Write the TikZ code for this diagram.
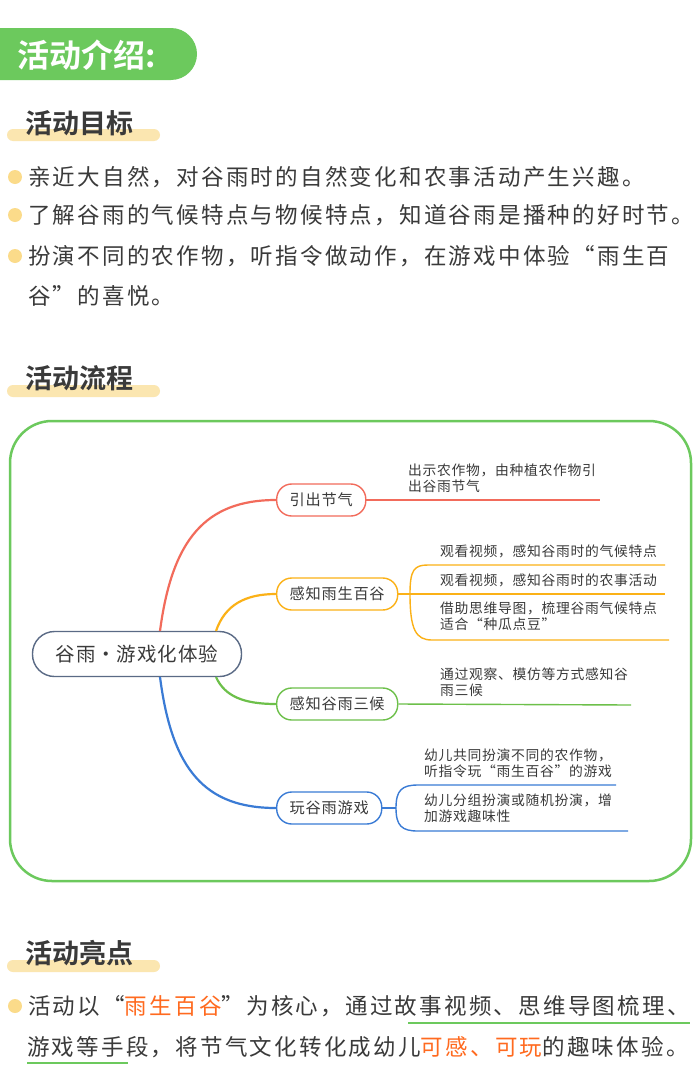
\documentclass[tikz,border=0pt]{standalone}
\usepackage{fontspec}
\setmainfont{Noto Sans CJK SC}
\newfontfamily\bodyf[LetterSpace=10]{Noto Sans CJK SC}
\newfontfamily\mapf[LetterSpace=5]{Noto Sans CJK SC}
\newfontfamily\headf{Noto Sans CJK SC Bold}
\definecolor{hg}{HTML}{6CC95D}
\definecolor{hy}{HTML}{FBE6B0}
\definecolor{bdot}{HTML}{FBDB8A}
\definecolor{tx}{HTML}{3A3A3A}
\definecolor{cr}{HTML}{F26B5B}
\definecolor{co}{HTML}{FBB117}
\definecolor{cg}{HTML}{6DC04A}
\definecolor{cb}{HTML}{3A7BD5}
\definecolor{cc}{HTML}{5A6A85}
\definecolor{hl}{HTML}{FF6A1F}
\begin{document}
\begin{tikzpicture}[x=1pt,y=-1pt,
  body/.style={anchor=west,inner sep=0,text=tx,font=\bodyf\fontsize{22.5}{26}\selectfont},
  head/.style={anchor=west,inner sep=0,text=tx,font=\headf\fontsize{27}{30}\selectfont},
  bdotst/.style={fill=bdot,draw=none},
  br/.style={draw=#1,line width=1.4pt,rounded corners=15pt,minimum height=32pt,inner xsep=13pt,font=\mapf\fontsize{15.2}{17}\selectfont,text=tx},
  leaf/.style={anchor=west,inner sep=0,align=left,text=tx,font=\mapf\fontsize{13.8}{16.5}\selectfont},
  cn/.style={line width=2.2pt,#1},
  ln/.style={line width=1.4pt,#1}]
\useasboundingbox (0,0) rectangle (700,1092);
\fill[white] (0,0) rectangle (700,1092);
% header
\fill[hg,rounded corners=26pt] (-40,28) rectangle (197,80);
\node[anchor=west,inner sep=0,text=white,font=\headf\fontsize{32}{34}\selectfont] (h0) at (17,55) {活动介绍:};
% section 1
\fill[hy,rounded corners=6pt] (7,129) rectangle (160,141);
\node[head] (h1) at (25,123) {活动目标};
\foreach \y in {177,215,256}{\fill[bdotst] (15,\y) circle (7pt);}
\node[body] (b1) at (28,177) {亲近大自然，对谷雨时的自然变化和农事活动产生兴趣。};
\node[body] (b2) at (28,215) {了解谷雨的气候特点与物候特点，知道谷雨是播种的好时节。};
\node[body] (b3) at (28,256) {扮演不同的农作物，听指令做动作，在游戏中体验“雨生百};
\node[body] (b4) at (28,296) {谷”的喜悦。};
% section 2
\fill[hy,rounded corners=6pt] (7,385) rectangle (160,397);
\node[head] (h2) at (25,378) {活动流程};
\draw[hg,line width=2.5pt,rounded corners=42pt] (10,421) rectangle (691,881);
% mind map
\node[draw=cc,line width=1.4pt,rounded corners=22pt,minimum width=209pt,minimum height=45pt,text=tx,font=\mapf\fontsize{19.5}{22}\selectfont] (c) at (137,654) {谷雨・游戏化体验};
\node[br=cr,anchor=west] (n1) at (276,500) {引出节气};
\node[br=co,anchor=west] (n2) at (276,594) {感知雨生百谷};
\node[br=cg,anchor=west] (n3) at (276,704) {感知谷雨三候};
\node[br=cb,anchor=west] (n4) at (276,808) {玩谷雨游戏};
\draw[cn=cr] (160,631) .. controls (172,540) and (205,500) .. (n1.west);
\draw[cn=co] (216,631) .. controls (225,605) and (245,594) .. (n2.west);
\draw[cn=cg] (216,677) .. controls (225,697) and (245,704) .. (n3.west);
\draw[cn=cb] (160,677) .. controls (172,770) and (205,808) .. (n4.west);
% leaves
\coordinate (e1) at (600,500);
\draw[ln=cr] (n1.east) -- (e1);
\node[leaf] (l1) at (408,478) {出示农作物，由种植农作物引\\出谷雨节气};
\coordinate (a1) at (428,565); \coordinate (f1) at (665,565);
\coordinate (a2) at (410,594); \coordinate (f2) at (665,594);
\coordinate (a3) at (432,640); \coordinate (f3) at (669,640);
\draw[ln=co] (n2.east) -- (410,594) -- (f2);
\draw[ln=co] (410,594) .. controls (410,570) and (414,565) .. (a1) -- (f1);
\draw[ln=co] (410,594) .. controls (410,630) and (416,640) .. (a3) -- (f3);
\node[leaf] (l2) at (440,551) {观看视频，感知谷雨时的气候特点};
\node[leaf] (l3) at (440,580) {观看视频，感知谷雨时的农事活动};
\node[leaf] (l4) at (440,616) {借助思维导图，梳理谷雨气候特点\\适合“种瓜点豆”};
\coordinate (e3) at (631,705);
\draw[ln=cg] (n3.east) -- (e3);
\node[leaf] (l5) at (440,682) {通过观察、模仿等方式感知谷\\雨三候};
\coordinate (g1) at (418,785); \coordinate (k1) at (616,785);
\coordinate (g2) at (418,831); \coordinate (k2) at (628,831);
\draw[ln=cb] (n4.east) -- (396,808);
\draw[ln=cb] (396,808) .. controls (396,790) and (402,785) .. (g1) -- (k1);
\draw[ln=cb] (396,808) .. controls (396,826) and (402,831) .. (g2) -- (k2);
\node[leaf] (l6) at (424,763) {幼儿共同扮演不同的农作物，\\听指令玩“雨生百谷”的游戏};
\node[leaf] (l7) at (424,808) {幼儿分组扮演或随机扮演，增\\加游戏趣味性};
% section 3
\fill[hy,rounded corners=6pt] (7,960) rectangle (160,972);
\node[head] (h3) at (25,953) {活动亮点};
\fill[bdotst] (15,1006) circle (7pt);
\node[body] (b5) at (28,1006) {活动以“\textcolor{hl}{雨生百谷}”为核心，通过故事视频、思维导图梳理、};
\node[body] (b6) at (27,1047) {游戏等手段，将节气文化转化成幼儿\textcolor{hl}{可感、可玩}的趣味体验。};
\draw[hg,line width=2pt] (408,1023) -- (690,1023);
\draw[hg,line width=2pt] (27,1063) -- (128,1063);
\end{tikzpicture}
\end{document}
